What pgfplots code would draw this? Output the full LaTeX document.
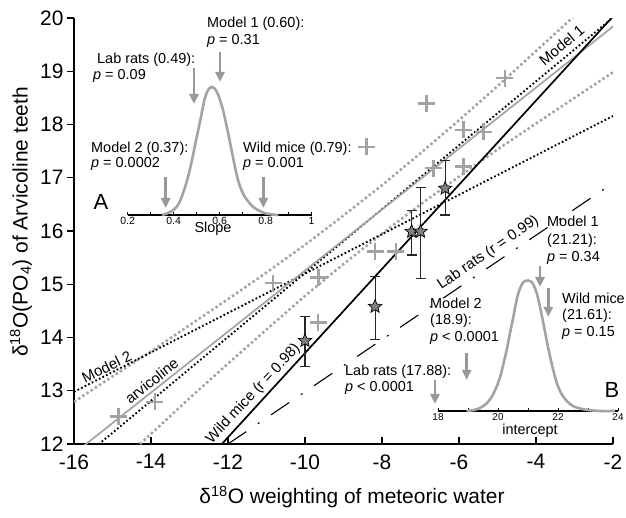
\documentclass[border=0pt]{standalone}
\usepackage{fontspec}
\setmainfont{Liberation Sans}
\usepackage{pgfplots}
\pgfplotsset{compat=1.18}
\usetikzlibrary{arrows.meta}
\definecolor{lgray}{gray}{0.64}
\definecolor{mgray}{gray}{0.60}
\pgfdeclareplotmark{fstar}{%
 \pgfpathmoveto{\pgfpointpolar{90}{\pgfplotmarksize}}%
 \pgfpathlineto{\pgfpointpolar{126}{0.45*\pgfplotmarksize}}%
 \pgfpathlineto{\pgfpointpolar{162}{\pgfplotmarksize}}%
 \pgfpathlineto{\pgfpointpolar{198}{0.45*\pgfplotmarksize}}%
 \pgfpathlineto{\pgfpointpolar{234}{\pgfplotmarksize}}%
 \pgfpathlineto{\pgfpointpolar{270}{0.45*\pgfplotmarksize}}%
 \pgfpathlineto{\pgfpointpolar{306}{\pgfplotmarksize}}%
 \pgfpathlineto{\pgfpointpolar{342}{0.45*\pgfplotmarksize}}%
 \pgfpathlineto{\pgfpointpolar{18}{\pgfplotmarksize}}%
 \pgfpathlineto{\pgfpointpolar{54}{0.45*\pgfplotmarksize}}%
 \pgfpathclose
 \pgfusepathqfillstroke}
\newcommand{\ins}{\fontsize{14.5}{17}\selectfont}
\newcommand{\lbl}{\fontsize{15}{18}\selectfont}
\tikzset{
 band/.style={lgray, line width=2.5bp, dash pattern=on 2.5bp off 2.5bp},
 model/.style={black, line width=1.9bp, dash pattern=on 1.7bp off 2.3bp},
 garrow/.style={mgray, line width=2.6bp, -{Triangle[width=9bp,length=10bp]}},
}
\begin{document}
\begin{tikzpicture}
\path[use as bounding box] (-74bp,-74bp) rectangle (552bp,444bp);
\begin{axis}[at={(0,0)}, anchor=south west, scale only axis,
 width=539bp, height=426bp,
 xmin=-16, xmax=-2, ymin=12, ymax=20,
 axis x line=bottom, axis y line=left,
 axis line style={-, line width=1.6bp, black},
 xtick={-16,-14,...,-2}, ytick={12,13,...,20},
 tick align=outside, major tick length=7bp,
 tick style={black, line width=1.2bp},
 xtick style={yshift=7bp},
 ticklabel style={font=\fontsize{21}{24}\selectfont},
 /pgf/number format/assume math mode=true]
% confidence band (arvicoline regression)
\addplot[band] coordinates {(-16,12.79) (-15,13.27) (-14,13.74) (-13,14.23) (-12,14.72) (-11,15.22) (-10,15.74) (-9,16.29) (-8,16.86) (-7,17.46) (-6,18.08) (-5,18.72) (-4,19.38) (-3,20.04) (-2,20.71)};
\addplot[band] coordinates {(-16,10.85) (-15,11.53) (-14,12.19) (-13,12.86) (-12,13.51) (-11,14.15) (-10,14.78) (-9,15.38) (-8,15.95) (-7,16.50) (-6,17.02) (-5,17.53) (-4,18.02) (-3,18.50) (-2,18.98)};
% Model 1 and Model 2
\addplot[model] coordinates {(-16,11.61) (-2,20.01)};
\addplot[model] coordinates {(-16,12.98) (-2,18.16)};
% arvicoline regression
\addplot[lgray, line width=1.7bp] coordinates {(-16,11.82) (-2,19.84)};
% wild mice
\addplot[black, line width=1.7bp] coordinates {(-12.16,12.0) (-2,20.03)};
% lab rats
\addplot[black, line width=1.1bp, dash pattern=on 22bp off 14bp on 2bp off 14bp] coordinates {(-12,12.0) (-2,16.9)};
% arvicoline teeth data
\addplot[only marks, mark=+, mark size=8.5bp, lgray, mark options={line width=2.6bp}] coordinates {
(-14.85,12.52) (-13.90,12.79) (-10.83,15.02) (-9.65,15.13) (-9.66,14.28)
(-8.18,15.61) (-7.64,15.61) (-8.40,17.58) (-6.67,17.18) (-5.89,17.21)
(-6.84,18.40) (-5.89,17.90) (-5.37,17.86) (-4.81,18.87)};
% wild mice means with error bars
\addplot[only marks, mark=fstar, mark size=7bp, mark options={fill=black!50, draw=black, line width=0.7bp},
 error bars/.cd, y dir=both, y explicit,
 error bar style={black!85, line width=1.1bp},
 error mark=-,
 error mark options={rotate=90, black!85, line width=1.1bp, mark size=5bp}]
 coordinates {
 (-10.00,13.94) += (0,0.45) -= (0,0.49)
 (-8.18,14.58) += (0,0.57) -= (0,0.61)
 (-7.23,15.99) += (0,0.40) -= (0,0.44)
 (-7.00,15.99) += (0,0.83) -= (0,0.88)
 (-6.36,16.80) += (0,0.52) -= (0,0.50)
 };
\end{axis}
% inset A: slope
\begin{axis}[at={(53.6bp,229bp)}, anchor=south west, scale only axis,
 width=184bp, height=140bp, xmin=0.2, xmax=1, ymin=0, ymax=140,
 axis y line=none, axis x line=bottom, axis line style={-, line width=2bp, black},
 xtick={0.2,0.4,0.6,0.8,1}, minor xtick={0.3,0.5,0.7,0.9},
 xticklabels={0.2,0.4,0.6,0.8,1},
 tick align=inside, major tick length=3bp, minor tick length=3bp,
 tick style={black, line width=0.8bp},
 xticklabel style={font=\fontsize{10.5}{12}\selectfont, inner sep=2bp}, clip=false]
\addplot[lgray, line width=2.6bp, smooth] coordinates {
(0.35,0) (0.37,1.5) (0.40,5) (0.414,8.3) (0.43,15) (0.45,28) (0.465,40) (0.48,55) (0.495,72) (0.51,88) (0.525,105) (0.536,117) (0.55,125) (0.565,128) (0.58,126) (0.594,120) (0.61,109) (0.623,97) (0.637,82) (0.652,65) (0.666,49) (0.68,35) (0.695,25) (0.71,18) (0.73,12) (0.746,8) (0.77,4.5) (0.79,2.3) (0.82,0.8) (0.855,0)};
\end{axis}
% inset B: intercept
\begin{axis}[at={(364bp,33bp)}, anchor=south west, scale only axis,
 width=180bp, height=140bp, xmin=18, xmax=24, ymin=0, ymax=140,
 axis y line=none, axis x line=bottom, axis line style={-, line width=2bp, black},
 xtick={18,20,22,24}, minor xtick={19,21,23},
 xticklabels={18,20,22,24},
 tick align=inside, major tick length=3bp, minor tick length=3bp,
 tick style={black, line width=0.8bp},
 xticklabel style={font=\fontsize{10}{11}\selectfont, inner sep=2bp}, clip=false]
\addplot[lgray, line width=2.6bp, smooth] coordinates {
(18.95,0) (19.2,1) (19.4,3) (19.6,7) (19.79,14) (19.95,24) (20.07,34) (20.18,47) (20.29,61) (20.4,78) (20.51,94) (20.6,108) (20.68,118) (20.8,127) (20.9,130) (21.0,130.5) (21.12,129) (21.2,125) (21.29,118) (21.4,104) (21.51,88) (21.62,71) (21.73,55) (21.85,40) (21.96,28) (22.1,18) (22.29,10) (22.5,5) (22.73,2.5) (23.0,1) (23.4,0) (23.9,0)};
\end{axis}
% annotations in pixel coordinates
\begin{scope}[x=1bp, y=-1bp, shift={(-74bp,444bp)}]
\node[rotate=90, font=\fontsize{21}{24}\selectfont] at (21,222) {δ\textsuperscript{18}O(PO\textsubscript{4}) of Arvicoline teeth};
\node[font=\fontsize{21}{24}\selectfont] at (352,497) {δ\textsuperscript{18}O weighting of meteoric water};
% inset A texts
\begin{scope}[every node/.style={anchor=base west, inner sep=0pt, font=\ins}]
\node at (207,28) {Model 1 (0.60):};
\node at (207,45) {\textit{p} = 0.31};
\node at (97,64) {Lab rats (0.49):};
\node at (93,79.3) {\textit{p} = 0.09};
\node at (91,153) {Model 2 (0.37):};
\node at (91,168) {\textit{p} = 0.0002};
\node at (243,153) {Wild mice (0.79):};
\node at (243,168) {\textit{p} = 0.001};
% inset B texts
\node at (547,227) {Model 1};
\node at (547,245) {(21.21):};
\node at (547,261.7) {\textit{p} = 0.34};
\node at (562,304) {Wild mice};
\node at (562,320) {(21.61):};
\node at (562,336.7) {\textit{p} = 0.15};
\node at (430,309) {Model 2};
\node at (430,325) {(18.9):};
\node at (430,341.7) {\textit{p} < 0.0001};
\node at (345,375.5) {Lab rats (17.88):};
\node at (345,391.7) {\textit{p} < 0.0001};
\end{scope}
\node[font=\fontsize{22}{26}\selectfont] at (101,202) {A};
\node[font=\fontsize{22}{26}\selectfont] at (612,390) {B};
\node[anchor=base, inner sep=0pt, font=\ins] at (213,233) {Slope};
\node[anchor=base, inner sep=0pt, font=\ins] at (530,435) {intercept};
% arrows
\draw[garrow] (220,52) -- (220,82);
\draw[garrow] (194,68) -- (194,104);
\draw[garrow] (165.7,177) -- (165.7,208);
\draw[garrow] (263.3,177) -- (263.3,208);
\draw[garrow] (540,266) -- (540,287);
\draw[garrow] (548.3,288) -- (548.3,317);
\draw[garrow] (466.7,353) -- (466.7,380);
\draw[garrow] (435,380) -- (435,404);
% line labels
\begin{scope}[every node/.style={inner sep=0pt, font=\lbl}]
\node[rotate=39.7] at (561.7,45) {Model 1};
\node[rotate=26] at (106.7,366.7) {Model 2};
\node[rotate=38.5] at (151.7,381) {arvicoline};
\node[rotate=47] at (253.3,394) {Wild mice (r = 0.98)};
\node[rotate=34.5] at (488.3,253) {Lab rats (r = 0.99)};
\end{scope}
\end{scope}
\end{tikzpicture}
\end{document}
